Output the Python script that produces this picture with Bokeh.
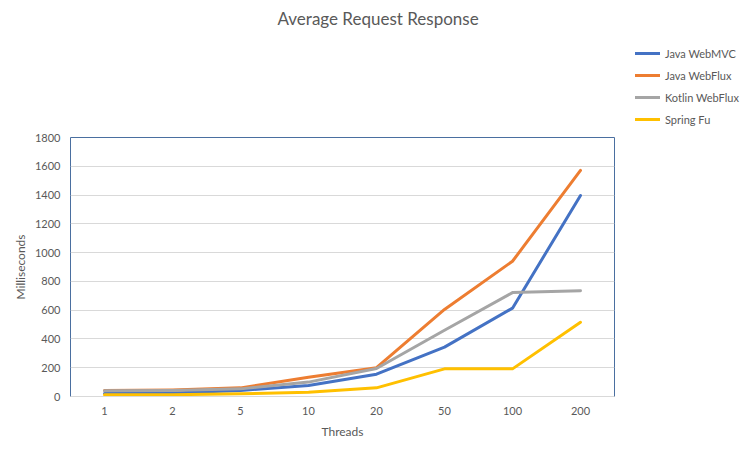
from bokeh.plotting import figure
from bokeh.layouts import column
from bokeh.models import FactorRange, Range1d, Legend, LegendItem, FixedTicker
from bokeh.embed import file_html
from bokeh.resources import INLINE

threads = ["1", "2", "5", "10", "20", "50", "100", "200"]
java_webmvc = [21, 25, 42, 76, 155, 343, 614, 1397]
java_webflux = [42, 46, 60, 134, 200, 605, 940, 1571]
kotlin_webflux = [40, 42, 53, 100, 195, 460, 722, 735]
spring_fu = [12, 12, 19, 30, 60, 192, 192, 516]

series_names = ["Java WebMVC", "Java WebFlux", "Kotlin WebFlux", "Spring Fu"]
series_values = [java_webmvc, java_webflux, kotlin_webflux, spring_fu]
colors = ["#4472C4", "#ED7D31", "#A5A5A5", "#FFC000"]
y_ticks = [0, 200, 400, 600, 800, 1000, 1200, 1400, 1600, 1800]

FONT = "Lato"
TXT = "#595959"

W = 747
TH = 40           # title strip height
BH = 2            # bottom rule strip height
H = 464 - TH - BH # main figure height
ML, FW, FH = 70, 544, 259
MT = 137 - TH

# ---- title strip ----
t = figure(width=W, height=TH, output_backend="svg", toolbar_location=None,
           x_axis_type=None, y_axis_type=None, min_border=0,
           title="Average Request Response")
t.title.align = "left"
t.title.offset = 207
t.title.vertical_align = "top"
t.title.standoff = 15
t.title.text_font = FONT
t.title.text_font_size = "17px"
t.title.text_font_style = "normal"
t.title.text_color = TXT
t.outline_line_color = None
t.xgrid.grid_line_color = None
t.ygrid.grid_line_color = None
t.border_fill_color = "white"

# ---- main chart ----
p = figure(width=W, height=H, x_range=FactorRange(*threads), y_range=Range1d(0, 1800),
           output_backend="svg", toolbar_location=None,
           min_border_left=ML, min_border_top=MT,
           min_border_right=W - ML - FW, min_border_bottom=H - MT - FH)
p.frame_width = FW
p.frame_height = FH
p.background_fill_color = "white"
p.border_fill_color = "white"
p.outline_line_color = "#4A6FA0"
p.outline_line_width = 1

p.xgrid.grid_line_color = None
p.ygrid.grid_line_color = "#D9D9D9"
p.ygrid.grid_line_width = 1

p.yaxis.ticker = FixedTicker(ticks=y_ticks)
p.yaxis.axis_line_color = None
p.yaxis.major_tick_line_color = None
p.yaxis.minor_tick_line_color = None
p.yaxis.major_tick_out = 0
p.yaxis.major_tick_in = 0
p.yaxis.minor_tick_out = 0
p.yaxis.major_label_standoff = 10
p.yaxis.major_label_text_font = FONT
p.yaxis.major_label_text_font_size = "11px"
p.yaxis.major_label_text_color = TXT
p.yaxis.axis_label = "Milliseconds"
p.yaxis.axis_label_text_font = FONT
p.yaxis.axis_label_text_font_size = "12px"
p.yaxis.axis_label_text_font_style = "normal"
p.yaxis.axis_label_text_color = TXT
p.yaxis.axis_label_standoff = 4

p.xaxis.axis_line_color = "#D9D9D9"
p.xaxis.major_tick_line_color = None
p.xaxis.minor_tick_line_color = None
p.xaxis.major_tick_out = 0
p.xaxis.major_tick_in = 0
p.xaxis.minor_tick_out = 0
p.xaxis.major_label_standoff = 10
p.xaxis.major_label_text_font = FONT
p.xaxis.major_label_text_font_size = "11px"
p.xaxis.major_label_text_color = TXT
p.xaxis.axis_label = "Threads"
p.xaxis.axis_label_text_font = FONT
p.xaxis.axis_label_text_font_size = "12px"
p.xaxis.axis_label_text_font_style = "normal"
p.xaxis.axis_label_text_color = TXT
p.xaxis.axis_label_standoff = 6

items = []
for name, vals, col in zip(series_names, series_values, colors):
    r = p.line(threads, vals, line_color=col, line_width=3, line_join="round", line_cap="round")
    items.append(LegendItem(label=name, renderers=[r]))

legend = Legend(items=items, location=(21, 267), orientation="vertical",
                glyph_width=25, glyph_height=20, label_height=20, label_standoff=5,
                spacing=2, padding=0, margin=0,
                label_text_font=FONT, label_text_font_size="11px", label_text_color=TXT,
                background_fill_alpha=0, border_line_color=None)
p.add_layout(legend, "right")

# ---- thin grey rule at the bottom of the chart area ----
b = figure(width=W, height=BH, output_backend="svg", toolbar_location=None,
           x_axis_type=None, y_axis_type=None, min_border=0)
b.outline_line_color = None
b.xgrid.grid_line_color = None
b.ygrid.grid_line_color = None
b.background_fill_color = "#D9D9D9"
b.border_fill_color = "#D9D9D9"

layout = column(t, p, b, spacing=0)
open("out.html", "w").write(file_html(layout, INLINE))
